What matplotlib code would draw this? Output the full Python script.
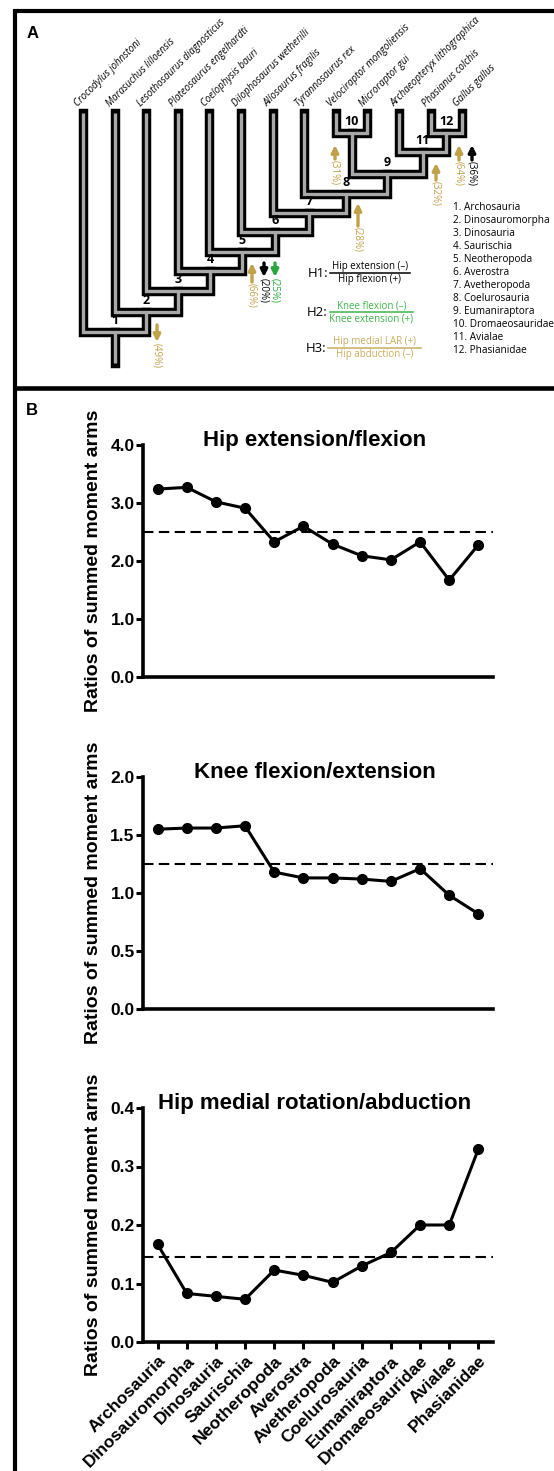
import numpy as np
import matplotlib
matplotlib.use('Agg')
import matplotlib.pyplot as plt

W, H = 554, 1471

# ---------------- panel A: cladogram ----------------
tips = ['Crocodylus johnstoni', 'Marasuchus lilloensis', 'Lesothosaurus diagnosticus',
        'Plateosaurus engelhardti', 'Coelophysis bauri', 'Dilophosaurus wetherilli',
        'Allosaurus fragilis', 'Tyrannosaurus rex', 'Velociraptor mongoliensis',
        'Microraptor gui', 'Archaeopteryx lithographica', 'Phasianus colchis',
        'Gallus gallus']

# node -> (left child, right child)
node_children = {1: ('t0', 'n2'), 2: ('t1', 'n3'), 3: ('t2', 'n4'), 4: ('t3', 'n5'),
                 5: ('t4', 'n6'), 6: ('t5', 'n7'), 7: ('t6', 'n8'), 8: ('t7', 'n9'),
                 9: ('n10', 'n11'), 10: ('t8', 't9'), 11: ('t10', 'n12'),
                 12: ('t11', 't12')}
# node depth (pixel row of the node bar)
node_depth = {1: 332, 2: 312, 3: 291, 4: 271, 5: 252, 6: 232, 7: 213,
              8: 194, 9: 174, 10: 133, 11: 152, 12: 133}

clades = ['Archosauria', 'Dinosauromorpha', 'Dinosauria', 'Saurischia',
          'Neotheropoda', 'Averostra', 'Avetheropoda', 'Coelurosauria',
          'Eumaniraptora', 'Dromaeosauridae', 'Avialae', 'Phasianidae']

GOLD = '#bfa24a'
GREEN = '#2aa63c'
# arrows: (x, y start, y end, colour, label)
arrows = [(157, 325, 342, GOLD, '(49%)'),
          (252, 282, 263, GOLD, '(66%)'),
          (264, 263, 277, 'black', '(20%)'),
          (275, 263, 277, GREEN, '(25%)'),
          (335, 159, 145, GOLD, '(31%)'),
          (358, 226, 203, GOLD, '(28%)'),
          (436, 180, 163, GOLD, '(32%)'),
          (459, 160, 145, GOLD, '(64%)'),
          (472, 160, 145, 'black', '(36%)')]

# ---------------- panel B data ----------------
hip_ext = [3.24, 3.27, 3.02, 2.91, 2.33, 2.60, 2.29, 2.09, 2.02, 2.33, 1.67, 2.28]
knee = [1.55, 1.56, 1.56, 1.58, 1.18, 1.13, 1.13, 1.12, 1.10, 1.21, 0.98, 0.82]
hip_rot = [0.167, 0.083, 0.078, 0.073, 0.123, 0.114, 0.102, 0.130, 0.153, 0.200, 0.200, 0.330]
means = [2.5, 1.25, 0.146]
titles = ['Hip extension/flexion', 'Knee flexion/extension', 'Hip medial rotation/abduction']
yticks = [[0, 1, 2, 3, 4], [0, 0.5, 1.0, 1.5, 2.0], [0, 0.1, 0.2, 0.3, 0.4]]

fig = plt.figure(figsize=(W / 100, H / 100), dpi=100)
ax0 = fig.add_axes([0, 0, 1, 1])
ax0.set_xlim(0, W)
ax0.set_ylim(H, 0)
ax0.axis('off')

# frame lines
ax0.plot([13, W], [11, 11], color='black', lw=3, solid_capstyle='butt')
ax0.plot([15, 15], [9, H], color='black', lw=3, solid_capstyle='butt')
ax0.plot([13, W], [388, 388], color='black', lw=3.3, solid_capstyle='butt')
ax0.text(33, 33, 'A', fontsize=12, fontweight='bold', family='Liberation Sans',
         ha='center', va='center')
ax0.text(32, 410, 'B', fontsize=12, fontweight='bold', family='Liberation Sans',
         ha='center', va='center')

tip_x = [83 + 31.6 * i for i in range(len(tips))]
tip_top = 113


def pos(key):
    if key[0] == 't':
        return tip_x[int(key[1:])], tip_top
    n = int(key[1:])
    l, r = node_children[n]
    return (pos(l)[0] + pos(r)[0]) / 2, node_depth[n]


paths = []
for n, (l, r) in node_children.items():
    lx, ly = pos(l)
    rx, ry = pos(r)
    d = node_depth[n]
    paths.append(([lx, lx, rx, rx], [ly, d, d, ry]))
rx0, ry0 = pos('n1')
paths.append(([rx0, rx0], [ry0, 363]))

for xs, ys in paths:
    ax0.plot(xs, ys, color='black', lw=6.8, solid_capstyle='projecting',
             solid_joinstyle='miter', zorder=2)
for xs, ys in paths:
    ax0.plot(xs, ys, color='#a8a8a8', lw=2.4, solid_capstyle='butt',
             solid_joinstyle='miter', zorder=3)

for n in node_children:
    x, y = pos('n%d' % n)
    ax0.text(x, y - 5, str(n), fontsize=9, fontweight='bold', family='Open Sans',
             ha='center', va='bottom', zorder=4)

for i, name in enumerate(tips):
    ax0.text(tip_x[i] - 5, 107, name, rotation=45, rotation_mode='anchor',
             ha='left', va='baseline', fontsize=7, style='italic',
             family='Open Sans')

for x, y0, y1, c, lab in arrows:
    ax0.annotate('', xy=(x, y1), xytext=(x, y0),
                 arrowprops=dict(arrowstyle='-|>', color=c, lw=2.4,
                                 mutation_scale=10, shrinkA=0, shrinkB=0))
    ax0.text(x, max(y0, y1) + 1, lab, rotation=-90, ha='center', va='top',
             fontsize=7, color=c, family='Open Sans')

for i, name in enumerate(clades):
    ax0.text(453, 207 + 13 * i, '%d. %s' % (i + 1, name), fontsize=7.2,
             family='Open Sans', ha='left', va='center')

# hypotheses
hyp = [('H1:', 'Hip extension (\u2013)', 'Hip flexion (+)', 'black', 273, 330, 410),
       ('H2:', 'Knee flexion (\u2013)', 'Knee extension (+)', '#3db54a', 312, 330, 413),
       ('H3:', 'Hip medial LAR (+)', 'Hip abduction (\u2013)', '#c9ad5e', 348, 328, 421)]
for h, num, den, c, y, x0, x1 in hyp:
    ax0.text(x0 - 2, y, h, fontsize=9.5, ha='right', va='center', family='Open Sans')
    ax0.plot([x0, x1], [y, y], color=c, lw=1.1)
    xm = (x0 + x1) / 2
    ax0.text(xm, y - 1, num, fontsize=7, color=c, ha='center', va='bottom',
             family='Open Sans')
    ax0.text(xm, y + 1, den, fontsize=7, color=c, ha='center', va='top',
             family='Open Sans')

# ---------------- panel B ----------------
rows = [(445, 677), (777, 1009), (1108, 1342)]
series = [hip_ext, knee, hip_rot]
xs = np.arange(len(clades))
for k, ((top, bot), vals) in enumerate(zip(rows, series)):
    ax = fig.add_axes([143 / W, 1 - bot / H, (493 - 143) / W, (bot - top) / H])
    ax.patch.set_alpha(0)
    ax.plot(xs, vals, color='black', lw=2.2, marker='o', ms=7, zorder=3,
            clip_on=False)
    ax.axhline(means[k], color='black', lw=1.5, ls=(0, (5, 2.6)))
    ax.set_xlim(-0.5, 11.5)
    ax.set_ylim(yticks[k][0], yticks[k][-1])
    ax.set_yticks(yticks[k])
    ax.set_yticklabels(['%.1f' % v for v in yticks[k]], fontsize=12.5,
                       fontweight='bold', family='Liberation Sans')
    for s in ['top', 'right']:
        ax.spines[s].set_visible(False)
    for s in ['left', 'bottom']:
        ax.spines[s].set_linewidth(2.6)
    ax.tick_params(axis='y', length=5, width=2.2, pad=1)
    if k < 2:
        ax.set_xticks([])
    else:
        ax.set_xticks(xs)
        ax.set_xticklabels(clades, rotation=45, ha='right', va='top',
                           rotation_mode='anchor', fontsize=12.5,
                           fontweight='bold', family='Liberation Sans')
        ax.tick_params(axis='x', length=5, width=2.2, pad=3)
    ax.set_ylabel('Ratios of summed moment arms', fontsize=14, fontweight='bold',
                  family='Liberation Sans')
    ax.yaxis.set_label_coords(-0.117, 0.5)
    ax.text(0.49, 1.02, titles[k], transform=ax.transAxes, ha='center',
            va='center', fontsize=16, fontweight='bold', family='Liberation Sans')

fig.savefig('out.png', dpi=100)
